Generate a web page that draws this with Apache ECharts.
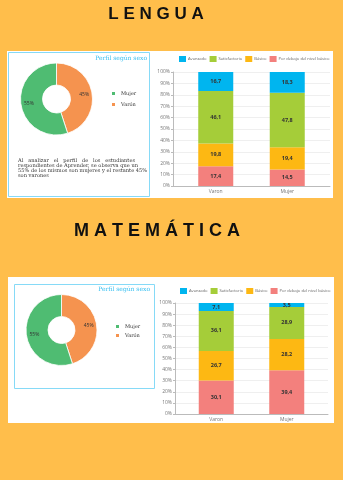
<!DOCTYPE html>
<html>
<head>
<meta charset="utf-8">
<script src="https://cdn.jsdelivr.net/npm/echarts@6/dist/echarts.min.js"></script>
<style>
  html, body { margin: 0; padding: 0; background: #FFBE4B; }
  #chart { width: 343px; height: 480px; }
</style>
</head>
<body>
<div id="chart"></div>
<script>
// Niveles de desempeño por sexo (porcentajes)
const levels = ['Avanzado', 'Satisfactorio', 'Básico', 'Por debajo del nivel básico'];
const sexCategories = ['Varon', 'Mujer'];
const yTicks = [0, 10, 20, 30, 40, 50, 60, 70, 80, 90, 100];

// Lengua
const lenguaPorDebajo = [17.4, 14.5];
const lenguaBasico = [19.8, 19.4];
const lenguaSatisfactorio = [46.1, 47.8];
const lenguaAvanzado = [16.7, 18.3];

// Matemática
const matePorDebajo = [30.1, 39.4];
const mateBasico = [26.7, 28.2];
const mateSatisfactorio = [36.1, 28.9];
const mateAvanzado = [7.1, 3.5];

// Perfil según sexo
const perfilNames = ['Varón', 'Mujer'];
const perfilValues = [45, 55];

const levelColors = {
  'Avanzado': '#00B5EF',
  'Satisfactorio': '#A5CD39',
  'Básico': '#FDB813',
  'Por debajo del nivel básico': '#F3807D'
};
const sexColors = { 'Varón': '#F5934F', 'Mujer': '#4FBC72' };

const serif = '"DejaVu Serif", "Liberation Serif", serif';
const sans = '"Open Sans", "Liberation Sans", sans-serif';

const chart = echarts.init(document.getElementById('chart'), null, { renderer: 'canvas' });

function comma(p) { return String(p.value).replace('.', ','); }

// compact legend row: swatch + label, widths measured from the label font
const legendFontSize = 4.1;
const measureCtx = document.createElement('canvas').getContext('2d');
function levelLegend(x0, yMid) {
  measureCtx.font = legendFontSize + 'px "Open Sans"';
  const out = [];
  let x = x0;
  levels.forEach(name => {
    out.push({ type: 'rect', z: 10, shape: { x: x, y: yMid - 3, width: 7, height: 6 }, style: { fill: levelColors[name] } });
    out.push({ type: 'text', z: 10, style: { text: name, x: x + 9, y: yMid, textVerticalAlign: 'middle',
      fontSize: legendFontSize, fontFamily: 'Open Sans', fill: '#666' } });
    x += 9 + measureCtx.measureText(name).width + 3;
  });
  return out;
}

function barSeries(name, values, xIdx, stack) {
  return {
    type: 'bar', name: name, data: values, stack: stack,
    xAxisIndex: xIdx, yAxisIndex: xIdx,
    barWidth: 35,
    itemStyle: { color: levelColors[name] },
    label: {
      show: true, position: 'inside', formatter: comma,
      fontSize: 5.5, fontWeight: 'bold', color: '#333', fontFamily: sans
    }
  };
}

function pieSeries(cx, cy, r0, r1) {
  return {
    type: 'pie', center: [cx, cy], radius: [r0, r1],
    startAngle: 90, clockwise: true,
    data: perfilNames.map((n, i) => ({ name: n, value: perfilValues[i], itemStyle: { color: sexColors[n] } })),
    itemStyle: { borderColor: '#fff', borderWidth: 0.8 },
    label: { show: true, position: 'inside', formatter: '{c}%', fontSize: 5, color: '#333', fontFamily: sans },
    labelLine: { show: false },
    emphasis: { disabled: true }
  };
}

function backAxes(gridIdx) {
  return {
    x: {
      type: 'category', gridIndex: gridIdx, data: sexCategories,
      axisLabel: { show: false }, axisTick: { show: false },
      axisLine: { show: true, lineStyle: { color: '#bbb', width: 1 } }
    },
    y: {
      type: 'value', gridIndex: gridIdx, min: yTicks[0], max: yTicks[yTicks.length - 1], interval: 10,
      axisLabel: { fontSize: 5, color: '#777', formatter: '{value}%', margin: 3, fontFamily: sans },
      axisTick: { show: true, length: 2, lineStyle: { color: '#bbb' } },
      axisLine: { show: true, lineStyle: { color: '#bbb', width: 1 } },
      splitLine: { show: true, lineStyle: { color: '#efefef', width: 1 } }
    }
  };
}

function barAxes(gridIdx) {
  return {
    x: {
      type: 'category', gridIndex: gridIdx, data: sexCategories,
      axisLabel: { fontSize: 5, color: '#777', margin: 3, fontFamily: sans },
      axisTick: { show: false }, axisLine: { show: false }
    },
    y: { type: 'value', gridIndex: gridIdx, min: 0, max: 100, show: false }
  };
}

const a0 = backAxes(0), a1 = barAxes(1), a2 = backAxes(2), a3 = barAxes(3);

const option = {
  backgroundColor: '#FFBE4B',
  animation: false,
  graphic: [
    // section titles
    { type: 'text', z: 10, style: { text: 'L E N G U A', x: 156, y: 14, textAlign: 'center', textVerticalAlign: 'middle',
      font: 'bold 17px "Liberation Sans", sans-serif', fill: '#111', shadowColor: '#fff2b0', shadowBlur: 2 } },
    { type: 'text', z: 10, style: { text: 'M A T E M Á T I C A', x: 157, y: 231, textAlign: 'center', textVerticalAlign: 'middle',
      font: 'bold 18px "Liberation Sans", sans-serif', fill: '#111', shadowColor: '#fff2b0', shadowBlur: 2 } },
    // panels
    { type: 'rect', z: 0, shape: { x: 7, y: 51, width: 326, height: 147 }, style: { fill: '#fff' } },
    { type: 'rect', z: 0, shape: { x: 8, y: 277, width: 326, height: 146 }, style: { fill: '#fff' } },
    { type: 'rect', z: 1, shape: { x: 8.5, y: 52.5, width: 141, height: 144 }, style: { fill: 'none', stroke: '#86DAF7', lineWidth: 1 } },
    { type: 'rect', z: 1, shape: { x: 14.5, y: 284.5, width: 140, height: 104 }, style: { fill: 'none', stroke: '#86DAF7', lineWidth: 1 } },
    // box headings
    { type: 'text', z: 10, style: { text: 'Perfil según sexo', x: 147, y: 58, textAlign: 'right', textVerticalAlign: 'middle',
      font: '6px ' + serif, fill: '#33BEF0' } },
    { type: 'text', z: 10, style: { text: 'Perfil según sexo', x: 150, y: 289, textAlign: 'right', textVerticalAlign: 'middle',
      font: '6px ' + serif, fill: '#33BEF0' } },
    // comment text
    { type: 'text', z: 10, style: {
      text: 'Al   analizar   el   perfil   de   los   estudiantes\nrespondientes de Aprender, se observa que un\n55% de los mismos son mujeres y el restante 45%\nson varones',
      x: 18, y: 158.5, font: '5.1px ' + serif, lineHeight: 5, fill: '#333' } }
  ].concat(levelLegend(179, 59), levelLegend(180, 291)),
  legend: [
    { data: ['Mujer', 'Varón'], orient: 'vertical', left: 105, top: 85, icon: 'rect', itemWidth: 5, itemHeight: 5, itemGap: 4,
      selectedMode: false, textStyle: { fontSize: 5, color: '#333', fontFamily: serif } },
    { data: ['Mujer', 'Varón'], orient: 'vertical', left: 109, top: 318, icon: 'rect', itemWidth: 5, itemHeight: 5, itemGap: 2,
      selectedMode: false, textStyle: { fontSize: 5, color: '#333', fontFamily: serif } }
  ],
  grid: [
    { left: 173, right: 13, top: 72, bottom: 294 },
    { left: 180, right: 20, top: 72, bottom: 294 },
    { left: 175, right: 15, top: 303, bottom: 66 },
    { left: 181, right: 21, top: 303, bottom: 66 }
  ],
  xAxis: [a0.x, a1.x, a2.x, a3.x],
  yAxis: [a0.y, a1.y, a2.y, a3.y],
  series: [
    barSeries('Por debajo del nivel básico', lenguaPorDebajo, 1, 'lengua'),
    barSeries('Básico', lenguaBasico, 1, 'lengua'),
    barSeries('Satisfactorio', lenguaSatisfactorio, 1, 'lengua'),
    barSeries('Avanzado', lenguaAvanzado, 1, 'lengua'),
    barSeries('Por debajo del nivel básico', matePorDebajo, 3, 'mate'),
    barSeries('Básico', mateBasico, 3, 'mate'),
    barSeries('Satisfactorio', mateSatisfactorio, 3, 'mate'),
    barSeries('Avanzado', mateAvanzado, 3, 'mate'),
    pieSeries(56.5, 99, 14, 36),
    pieSeries(61.5, 330, 13.5, 35.5)
  ]
};

chart.setOption(option);
</script>
</body>
</html>
